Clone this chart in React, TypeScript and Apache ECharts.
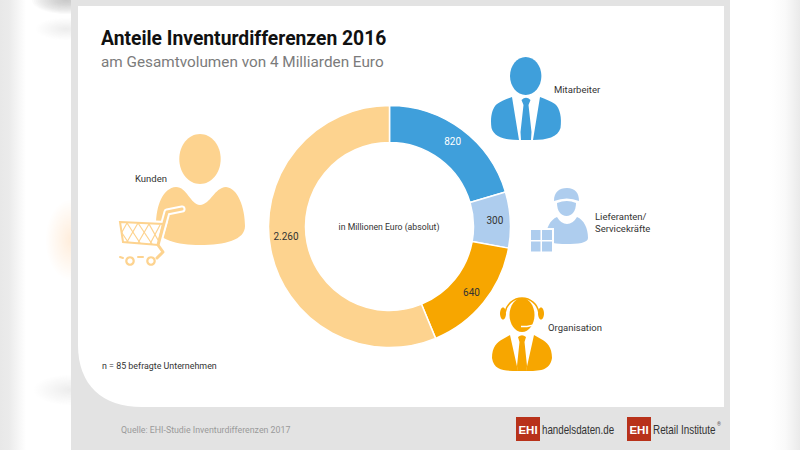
import React, { useEffect, useRef } from "react";
import * as echarts from "echarts";

const categories = ["Mitarbeiter", "Lieferanten/Servicekräfte", "Organisation", "Kunden"];
const values = [820, 300, 640, 2260];
const valueLabels = ["820", "300", "640", "2.260"];
const sliceColors = ["#3f9fdb", "#aecdee", "#f7a600", "#fdd38f"];
const labelColors = ["#ffffff", "#333333", "#333333", "#333333"];

const FONT = "Roboto, sans-serif";
const BLUE = sliceColors[0], LIGHT = sliceColors[1], ORANGE = sliceColors[2], PEACH = sliceColors[3];

const shapes: Record<string, string> = {
  panelWhite: "M78,6 H724 V407 H142 C102,407 78,385 78,345 Z",
  mitL: "M512,97 L519,140 C505,140 494,137 491.5,128 C490,118 492,108 497,104 C501,101 507,99 512,97 Z",
  mitR: "M540,97 L533,140 C547,140 558,137 560.5,128 C562,118 560,108 555,104 C551,101 545,99 540,97 Z",
  mitTie: "M521.5,100 Q526,95.5 530.5,100 L528.5,105 L531.5,132 L531,140 L521,140 L520.5,132 L523.5,105 Z",
  orgL: "M510,335 L518,371 C505,371 494,371 492,358 C492,347 497,342 503,339 Z",
  orgR: "M534,335 L526,371 C539,371 550,371 552,358 C552,347 547,342 541,339 Z",
  orgTie: "M518,337 Q522,333.5 526,337 L524.5,342 L527,366 L526.5,371 L517.5,371 L517,366 L519.5,342 Z",
  cap: "M554,201 C554,192 559,188 567,188 C575,188 579,193 579,201 Q567,196 554,201 Z",
  face: "M557,203 Q567,199 576,203 C576,211 572,216 566.5,216 C561,216 557,211 557,203 Z",
  lieBody: "M557,217 Q561,224 567,224 Q573,224 577,217 C584,220 588,228 588,238 C588,243 578,244 566,244 C556,244 549,243 546,238 C546,228 550,220 557,217 Z",
  kunBody: "M156,226 C156,205 163,188 176,187 C187,187 190,204 200,205 C211,204 214,188 226,187 C238,188 245,208 245,226 C245,240 225,245 200,245 C178,245 156,240 156,226 Z",
};
Object.entries(shapes).forEach(([k, d]) =>
  echarts.graphic.registerShape(k, echarts.graphic.extendPath(d, {}) as any)
);

// soft patch built from stacked translucent ellipses
const blur = (cx: number, cy: number, rx: number, ry: number, color: string, alpha: number, steps = 18) =>
  Array.from({ length: steps }, (_, i) => {
    const f = 1 - i / steps;
    return {
      type: "ellipse",
      shape: { cx, cy, rx: rx * f, ry: ry * f },
      style: { fill: color, opacity: alpha },
      silent: true,
    };
  });
const shape = (type: string, fill: string) => ({ type, x: 0, y: 0, style: { fill }, silent: true });
const ell = (cx: number, cy: number, rx: number, ry: number, fill: string) => ({
  type: "ellipse", shape: { cx, cy, rx, ry }, style: { fill }, silent: true,
});
const rect = (x: number, y: number, width: number, height: number, fill: string) => ({
  type: "rect", shape: { x, y, width, height }, style: { fill }, silent: true,
});
const line = (points: number[][], stroke: string, lineWidth: number) => ({
  type: "polyline", shape: { points }, style: { stroke, lineWidth, fill: "none", lineCap: "round", lineJoin: "round" }, silent: true,
});
const txt = (text: string, x: number, y: number, fontSize: number, fill: string, extra: any = {}, scaleX = 1) => ({
  type: "text", x, y, scaleX, silent: true,
  style: { text, fontSize, fill, fontFamily: FONT, verticalAlign: "middle", ...extra },
});
const LOGO = "'Liberation Sans', sans-serif";

const graphics: any[] = [
  // blurred page behind the card
  { type: "rect", shape: { x: 0, y: 0, width: 26, height: 450 },
    style: { fill: { type: "linear", x: 0, y: 0, x2: 1, y2: 0, colorStops: [{ offset: 0, color: "#e8e8e8" }, { offset: 0.35, color: "#ebebeb" }, { offset: 1, color: "#ffffff" }] } }, silent: true },
  { type: "rect", shape: { x: 770, y: 0, width: 30, height: 450 },
    style: { fill: { type: "linear", x: 0, y: 0, x2: 1, y2: 0, colorStops: [{ offset: 0, color: "#ffffff" }, { offset: 0.5, color: "#fafafa" }, { offset: 1, color: "#eaeaea" }] } }, silent: true },
  ...blur(66, 0, 34, 14, "#a8a8a8", 0.05),
  ...blur(66, 29, 30, 11, "#d0d0d0", 0.012),
  ...blur(72, 240, 26, 40, "#fbd9a0", 0.025),
  ...blur(70, 390, 36, 15, "#c4c4c4", 0.02),
  ...blur(60, 448, 36, 12, "#d8d8d8", 0.012),

  // card
  rect(71, 0, 659, 450, "#e3e3e3"),
  shape("panelWhite", "#ffffff"),

  // Mitarbeiter icon
  ell(525.7, 76, 15.7, 19, BLUE),
  shape("mitL", BLUE), shape("mitR", BLUE), shape("mitTie", BLUE),

  // Lieferanten icon
  shape("cap", LIGHT), shape("face", LIGHT), shape("lieBody", LIGHT),
  rect(529, 228, 25, 25, "#ffffff"),
  rect(531, 230, 9.5, 10, LIGHT), rect(542, 230, 10, 10, LIGHT),
  rect(531, 241.5, 9.5, 10, LIGHT), rect(542, 241.5, 10, 10, LIGHT),

  // Organisation icon
  ell(522, 315, 12.5, 17, ORANGE),
  shape("orgL", ORANGE), shape("orgR", ORANGE), shape("orgTie", ORANGE),
  { type: "arc", shape: { cx: 522, cy: 315, r: 17, startAngle: Math.PI * 1.05, endAngle: Math.PI * 1.95 },
    style: { stroke: ORANGE, lineWidth: 1.5, fill: "none" }, silent: true },
  ell(503, 313.5, 3, 6, ORANGE), ell(541, 313.5, 3, 6, ORANGE),
  { type: "polyline", shape: { points: [[537, 320], [534, 325], [527, 326.5], [521, 326.5]] },
    style: { stroke: "#ffffff", lineWidth: 1.3, fill: "none" }, silent: true },

  // Kunden icon
  ell(200, 159, 20.7, 25, PEACH),
  shape("kunBody", PEACH),
  { type: "polygon", shape: { points: [[117, 219], [168, 221], [160, 248], [120, 245]] }, style: { fill: "#ffffff" }, silent: true },
  line([[182, 209], [167, 212], [158, 245], [164, 252], [158, 258], [145, 258]], "#ffffff", 7),
  line([[182, 209], [167, 212], [158, 245], [163, 252], [157, 258]], PEACH, 3),
  { type: "polygon", shape: { points: [[120, 222], [163, 224], [158, 245], [123, 242]] },
    style: { fill: "none", stroke: PEACH, lineWidth: 2 }, silent: true },
  line([[127, 223], [140, 243]], PEACH, 1.2), line([[138, 223], [152, 244]], PEACH, 1.2), line([[149, 224], [158, 240]], PEACH, 1.2),
  line([[122, 233], [128, 242]], PEACH, 1.2),
  line([[127, 223], [122, 232]], PEACH, 1.2), line([[138, 223], [127, 242]], PEACH, 1.2), line([[149, 224], [138, 243]], PEACH, 1.2),
  line([[160, 225], [150, 244]], PEACH, 1.2),
  line([[120, 257], [123, 258]], PEACH, 2), line([[138, 257], [143, 257]], PEACH, 2),
  { type: "ring", shape: { cx: 130, cy: 261, r: 4.8, r0: 2.6 }, style: { fill: PEACH }, silent: true },
  { type: "ring", shape: { cx: 151, cy: 261, r: 4.8, r0: 2.6 }, style: { fill: PEACH }, silent: true },

  // texts
  txt("Anteile Inventurdifferenzen 2016", 101, 38, 19.3, "#111111", { fontWeight: 700 }),
  txt("am Gesamtvolumen von 4 Milliarden Euro", 101, 62, 15.3, "#7b7b7b"),
  txt(categories[0], 554, 89, 9.5, "#333333"),
  txt("Lieferanten/", 595, 216, 9.5, "#333333"),
  txt("Servicekräfte", 595, 228, 9.5, "#333333"),
  txt(categories[2], 548, 327, 9.5, "#333333"),
  txt(categories[3], 135, 178, 9.5, "#333333"),
  txt("in Millionen Euro (absolut)", 389, 227, 8.7, "#333333", { align: "center" }),
  txt("n = 85 befragte Unternehmen", 102, 366, 8.9, "#333333"),
  txt("Quelle: EHI-Studie Inventurdifferenzen 2017", 121, 430, 8.8, "#9a9a9a"),

  // logos
  rect(516, 417, 24, 24, "#b8321a"),
  txt("EHI", 528, 429.5, 11.5, "#ffffff", { fontWeight: 700, align: "center", fontFamily: LOGO }),
  txt("handelsdaten.de", 542, 429.5, 13, "#333333", { fontFamily: LOGO }, 0.75),
  rect(627, 417, 24, 24, "#b8321a"),
  txt("EHI", 639, 429.5, 11.5, "#ffffff", { fontWeight: 700, align: "center", fontFamily: LOGO }),
  txt("Retail Institute", 653, 429.5, 13, "#333333", { fontFamily: LOGO }, 0.76),
  txt("®", 717, 424, 5, "#555555"),
];

export default function App() {
  const ref = useRef<HTMLDivElement>(null);
  useEffect(() => {
    const chart = echarts.init(ref.current!, null, { renderer: "svg", width: 800, height: 450 });
    chart.setOption({
      animation: false,
      backgroundColor: "#ffffff",
      graphic: { elements: graphics },
      series: [
        {
          type: "pie",
          center: [389.5, 226.5],
          radius: [84, 121],
          startAngle: 90,
          clockwise: true,
          silent: true,
          labelLine: { show: false },
          itemStyle: { borderColor: "#ffffff", borderWidth: 1.5 },
          data: categories.map((name, i) => ({
            name,
            value: values[i],
            itemStyle: { color: sliceColors[i] },
            label: {
              show: true,
              position: "inside",
              formatter: valueLabels[i],
              color: labelColors[i],
              fontSize: 10,
              fontFamily: FONT,
              offset: i === 3 ? [0, -10] : [0, 0],
            },
          })),
        },
      ],
    });
    return () => chart.dispose();
  }, []);
  return <div ref={ref} style={{ position: "absolute", left: 0, top: 0, width: 800, height: 450 }} />;
}
